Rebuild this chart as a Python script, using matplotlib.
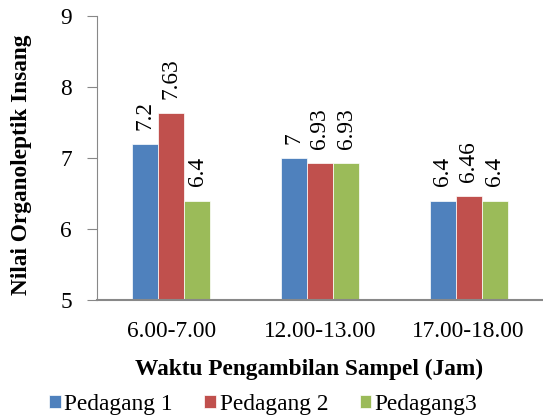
import matplotlib.pyplot as plt
import numpy as np

# data
waktu = ['6.00-7.00', '12.00-13.00', '17.00-18.00']
pedagang1 = [7.2, 7.0, 6.4]
pedagang2 = [7.63, 6.93, 6.46]
pedagang3 = [6.4, 6.93, 6.4]
label1 = ['7.2', '7', '6.4']
label2 = ['7.63', '6.93', '6.46']
label3 = ['6.4', '6.93', '6.4']

plt.rcParams['font.family'] = ['Liberation Serif', 'DejaVu Serif']
fs = 16.8

fig = plt.figure(figsize=(5.43, 4.19), dpi=100)
ax = fig.add_axes([97 / 543, 1 - 300 / 419, 446 / 543, 284 / 419])

x = np.arange(len(waktu))
w = 0.175
series = [(pedagang1, label1, '#4F81BD', 'Pedagang 1'),
          (pedagang2, label2, '#C0504D', 'Pedagang 2'),
          (pedagang3, label3, '#9BBB59', 'Pedagang3')]

for i, (vals, labs, col, name) in enumerate(series):
    pos = x + (i - 1) * w
    ax.bar(pos, np.array(vals) - 5, width=w, bottom=5, color=col,
           edgecolor='white', linewidth=0.5, label=name)
    for px, v, t in zip(pos, vals, labs):
        ax.text(px, v + 0.2, t, rotation=90, ha='center', va='bottom',
                fontsize=fs)

ax.set_ylim(5, 9)
ax.set_xlim(-0.5, 2.5)
ax.set_yticks([5, 6, 7, 8, 9])
ax.set_xticks(x)
ax.set_xticklabels(waktu)
ax.tick_params(axis='x', length=0, labelsize=fs, pad=15)
ax.tick_params(axis='y', length=7, color='#888888', labelsize=fs, pad=11)

for s in ['top', 'right']:
    ax.spines[s].set_visible(False)
ax.spines['left'].set_color('#888888')
ax.spines['bottom'].set_color('#888888')
ax.spines['bottom'].set_linewidth(1.5)

ax.set_ylabel('Nilai Organoleptik Insang', fontsize=fs, fontweight='bold',
              va='center')
ax.yaxis.set_label_coords(-0.17, 0.475)
ax.set_xlabel('Waktu Pengambilan Sampel (Jam)', fontsize=fs,
              fontweight='bold', va='center')
ax.xaxis.set_label_coords(0.475, -0.245)

fig.legend(loc='center', bbox_to_anchor=(0.485, 1 - 404 / 419), ncol=3,
           frameon=False, fontsize=fs, handlelength=0.5, handleheight=0.5,
           handletextpad=0.15, columnspacing=1.35, borderaxespad=0)

fig.savefig('out.png', dpi=100)
